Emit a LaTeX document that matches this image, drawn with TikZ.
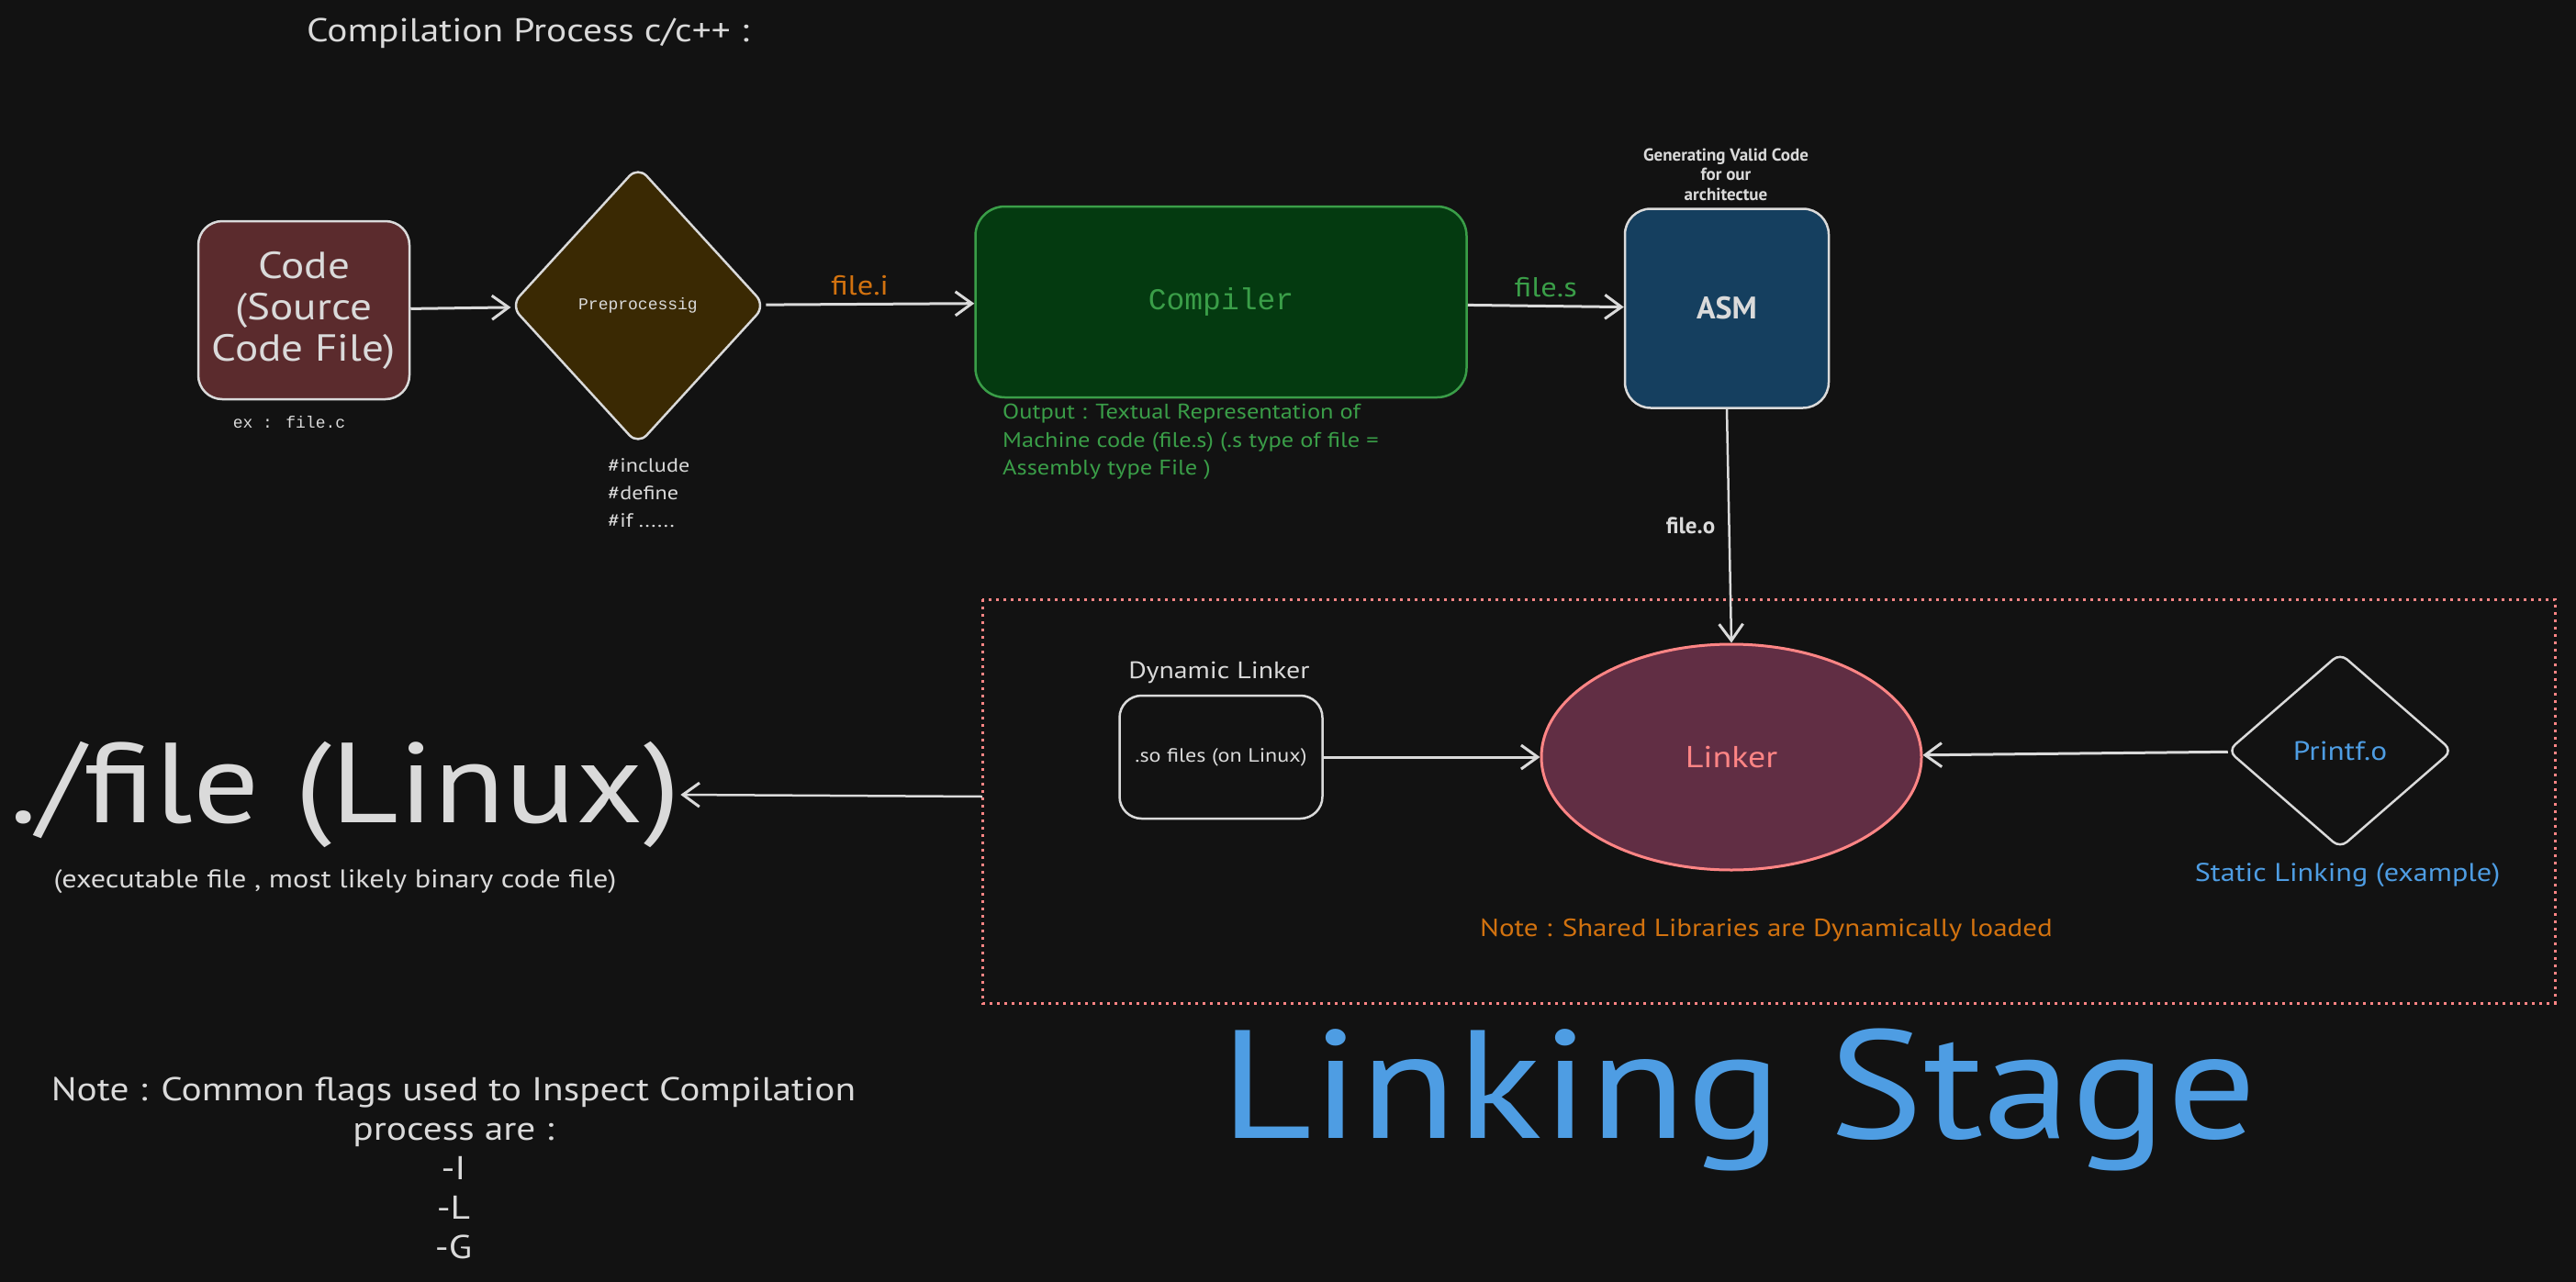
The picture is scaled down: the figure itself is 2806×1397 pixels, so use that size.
\documentclass[tikz,border=0pt]{standalone}
\usepackage{fontspec}
\setmainfont{PT Sans}
\newfontfamily\hw[FakeStretch=1.15]{PT Sans}
\newfontfamily\monofont{Liberation Mono}
\usetikzlibrary{shapes.geometric,arrows.meta}
\definecolor{bg}{HTML}{121212}
\definecolor{ink}{HTML}{DADADA}
\definecolor{codefill}{HTML}{5B2B2D}
\definecolor{prefill}{HTML}{3A2903}
\definecolor{compfill}{HTML}{043A10}
\definecolor{compgreen}{HTML}{3A9E48}
\definecolor{asmfill}{HTML}{153F5F}
\definecolor{linkfill}{HTML}{612E44}
\definecolor{salmon}{HTML}{FF8585}
\definecolor{orangetxt}{HTML}{D2720F}
\definecolor{bluetxt}{HTML}{4E9DE3}
\newcommand\fsz[2]{\fontsize{#1}{#2}\selectfont}
\begin{document}
\begin{tikzpicture}[x=1pt,y=-1pt,
  boxshape/.style={draw=ink,line width=2.5pt,rounded corners=26pt,inner sep=0pt},
  conn/.style={draw=ink,line width=3pt,-{Straight Barb[length=18pt,width=26pt,line width=3pt]}},
  txt/.style={text=ink,inner sep=0pt,align=center}]
\fill[bg] (0,0) rectangle (2806,1397);
\useasboundingbox (0,0) rectangle (2806,1397);

% title
\node[txt,font=\hw\fsz{36}{40}] (title) at (575,36) {Compilation Process c/c++ :};

% code box
\node[boxshape,fill=codefill,minimum width=230pt,minimum height=194pt,text=ink,align=center,font=\hw\fsz{41}{45}] (code) at (331,338) {Code\\(Source\\Code File)};
\node[txt,font=\monofont\fsz{18}{22}] (ex) at (315,460) {ex : file.c};

% preprocessing diamond
\node[diamond,draw=ink,line width=2.5pt,fill=prefill,minimum width=278pt,minimum height=304pt,inner sep=0pt,rounded corners=14pt,text=ink,font=\monofont\fsz{18}{22}] (pre) at (695,333) {Preprocessig};
\node[txt,align=left,anchor=west,font=\hw\fsz{21}{30}] (inc) at (662,537) {\#include\\\#define\\\#if ......};

% compiler
\node[boxshape,draw=compgreen,fill=compfill,minimum width=535pt,minimum height=208pt,rounded corners=32pt,text=compgreen,font=\monofont\fsz{33}{40}] (comp) at (1330,329) {Compiler};
\node[inner sep=0pt,anchor=north west,align=left,text=compgreen,font=\hw\fsz{23}{30.5}] (out) at (1092,440) {Output : Textual Representation of\\Machine code (file.s) (.s type of file =\\Assembly type File )};

% ASM
\node[boxshape,fill=asmfill,minimum width=222pt,minimum height=217pt,rounded corners=28pt,text=ink,font=\bfseries\fsz{34}{40}] (asm) at (1881,336) {ASM};
\node[txt,font=\bfseries\fsz{19}{21.5}] (gen) at (1880,190) {Generating Valid Code\\for our\\architectue};

% linking stage frame
\draw[salmon,line width=3pt,dash pattern=on 3pt off 5pt] (1070,653) rectangle (2783,1093);
\coordinate (framew) at (1070,868);

% linker
\node[ellipse,draw=salmon,line width=3pt,fill=linkfill,minimum width=414pt,minimum height=246pt,inner sep=0pt,text=salmon,font=\hw\fsz{33}{36}] (link) at (1886,825) {Linker};

% dynamic linker box
\node[boxshape,minimum width=221pt,minimum height=134pt,rounded corners=24pt,text=ink,font=\hw\fsz{21}{24}] (so) at (1330,825) {.so files (on Linux)};
\node[txt,font=\hw\fsz{26}{30}] (dyn) at (1328,733) {Dynamic Linker};

% printf diamond
\node[diamond,draw=ink,line width=2.5pt,minimum width=245pt,minimum height=213pt,inner sep=0pt,rounded corners=10pt,text=bluetxt,font=\hw\fsz{29}{32}] (printf) at (2549,818) {Printf.o};
\node[inner sep=0pt,text=bluetxt,font=\hw\fsz{28}{32}] (static) at (2557,954) {Static Linking (example)};

\node[inner sep=0pt,text=orangetxt,font=\hw\fsz{27}{32}] (shared) at (1924,1014) {Note : Shared Libraries are Dynamically loaded};

% executable
\node[txt,font=\hw\fsz{124}{130}] (exe) at (376,866) {./file (Linux)};
\node[txt,font=\hw\fsz{28}{30}] (exed) at (365,961) {(executable file , most likely binary code file)};

% bottom note
\node[txt,font=\hw\fsz{36}{43}] (note) at (494,1273) {Note : Common flags used to Inspect Compilation\\process are :\\-I\\-L\\-G};

% linking stage
\node[inner sep=0pt,anchor=base,text=bluetxt,font=\hw\fsz{168}{180}] (ls) at (1894,1240) {Linking Stage};

% connectors
\draw[conn] (code) -- (pre);
\draw[conn] (pre) -- node[pos=0.45,above=8pt,text=orangetxt,font=\hw\fsz{30}{32},inner sep=0pt]{file.i} (comp);
\draw[conn] (comp) -- node[above=8pt,text=compgreen,font=\hw\fsz{30}{32},inner sep=0pt]{file.s} (asm);
\draw[conn,line width=2.5pt] (asm.south) -- node[left=14pt,text=ink,font=\bfseries\fsz{25}{28},inner sep=0pt]{file.o} (link.north);
\draw[conn] (so) -- (link);
\draw[conn] (printf) -- (link);
\draw[conn,line width=2.5pt] (framew) -- (exe.east);
\end{tikzpicture}
\end{document}
